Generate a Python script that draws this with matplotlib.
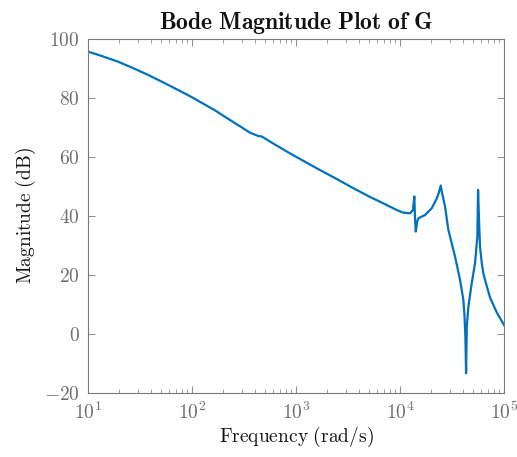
import numpy as np
import matplotlib
matplotlib.use("Agg")
import matplotlib.pyplot as plt
from matplotlib.ticker import FixedLocator, FuncFormatter, LogLocator, NullFormatter

plt.rcParams['mathtext.fontset'] = 'cm'
plt.rcParams['font.family'] = ['DejaVu Serif']

# Frequency (rad/s) and magnitude (dB)
freq = [10, 13.0, 19.4, 27.1, 37.8, 52.6, 73.3, 95.6, 119, 166, 232, 289, 361, 419, 440,
        460, 480, 600, 875, 1200, 1650, 2500, 3556, 5100, 7447, 9300, 10760, 12480,
        12760, 13300, 13730, 13900, 14170, 14600, 15010, 16000, 17390, 20170, 22530,
        23600, 24620, 25300, 26200, 27080, 29130, 31500, 33800, 37760, 40620, 41600,
        42500, 43150, 43800, 45400, 48920, 52600, 55350, 56230, 57880, 58750, 61050,
        63240, 65670, 73330, 85080, 100000]
mag_db = [95.7, 94.4, 92.3, 90.1, 87.8, 85.3, 82.7, 80.6, 78.7, 75.8, 72.5, 70.4, 68.2, 67.3, 67.0,
          67.0, 66.7, 64.6, 61.2, 58.5, 55.8, 52.4, 49.4, 46.5, 43.7, 42.0, 41.1, 40.9,
          41.3, 42.0, 46.6, 40.0, 34.7, 38.0, 39.2, 39.7, 40.3, 42.6, 45.9,
          47.8, 50.3, 48.0, 45.5, 43.2, 35.3, 30.5, 26.2, 18.3, 11.5, 6.5,
          -1.0, -13.3, 2.5, 9.3, 17.3, 24.0, 33.0, 48.8, 35.3, 29.6, 24.0,
          20.6, 18.3, 12.3, 7.3, 3.0]

title = r'$\mathbf{Bode\ Magnitude\ Plot\ of\ G}$'
xlabel = r'$\mathrm{Frequency\ (rad/s)}$'
ylabel = r'$\mathrm{Magnitude\ (dB)}$'
yticks = [-20, 0, 20, 40, 60, 80, 100]
xticks = [1e1, 1e2, 1e3, 1e4, 1e5]

fig = plt.figure(figsize=(5.17, 4.57), dpi=100)
ax = fig.add_axes([0.170, 0.140, 0.805, 0.775])
ax.semilogx(freq, mag_db, color='#0072BD', lw=1.6)
ax.set_xlim(10, 1e5)
ax.set_ylim(-20, 100)

ax.xaxis.set_major_locator(FixedLocator(xticks))
ax.xaxis.set_minor_locator(LogLocator(base=10, subs=np.arange(2, 10)))
ax.xaxis.set_minor_formatter(NullFormatter())
ax.xaxis.set_major_formatter(FuncFormatter(lambda v, p: r'$10^{%d}$' % int(round(np.log10(v)))))
ax.yaxis.set_major_locator(FixedLocator(yticks))
ax.yaxis.set_major_formatter(FuncFormatter(lambda v, p: r'$%d$' % int(v)))

for s in ax.spines.values():
    s.set_color('#7a7a7a')
    s.set_linewidth(0.8)
ax.tick_params(which='both', direction='in', top=True, right=True, colors='#7a7a7a',
               labelcolor='#6e6e6e', labelsize=14)
ax.tick_params(which='major', length=5, width=0.6, pad=6)
ax.tick_params(which='minor', length=3, width=0.5)

ax.set_title(title, fontsize=17, pad=7, color='#111111')
ax.set_xlabel(xlabel, fontsize=14, color='#111111', labelpad=2)
ax.set_ylabel(ylabel, fontsize=14, color='#111111', labelpad=4)

fig.savefig('out.png', dpi=100)
